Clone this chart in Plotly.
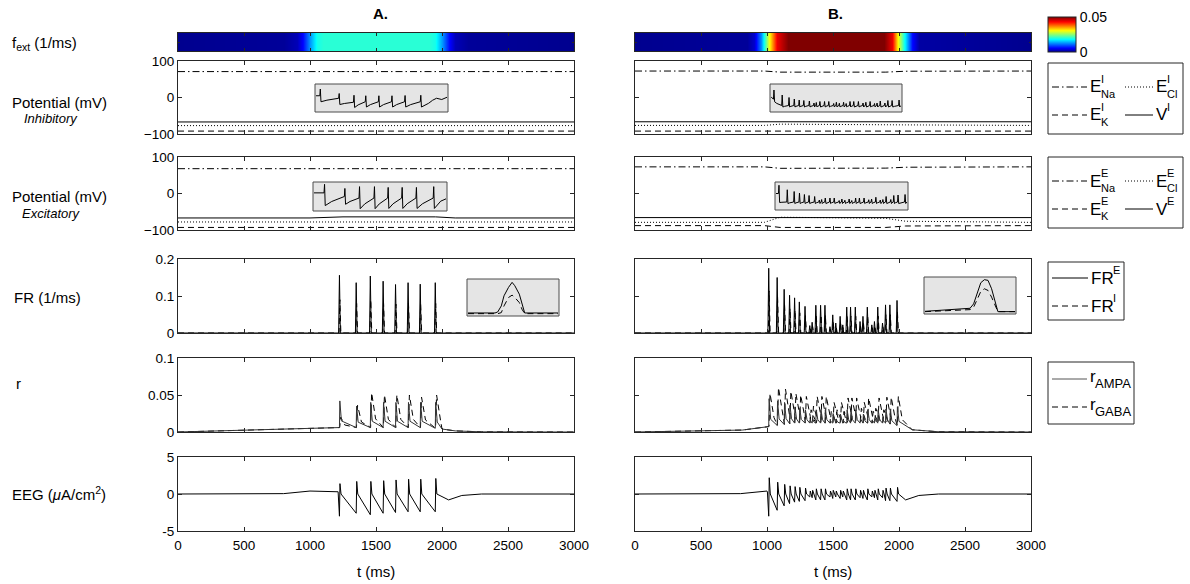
import plotly.graph_objects as go

# ---------------- data ----------------
X_TICKS = [0, 500, 1000, 1500, 2000, 2500, 3000]

# external drive f_ext (1/ms)
fext_tA = [0, 800, 900, 950, 1000, 1050, 1100, 1900, 1950, 2000, 2050, 2100, 2200, 3000]
fext_A = [0, 0.0005, 0.002, 0.006, 0.013, 0.019, 0.02, 0.02, 0.019, 0.013, 0.006, 0.002, 0.0005, 0]
fext_tB = [0, 850, 900, 958, 1016, 1076, 1160, 1890, 1947, 1993, 2038, 2095, 2150, 3000]
fext_B = [0, 0.0005, 0.003, 0.0125, 0.03, 0.044, 0.05, 0.05, 0.044, 0.03, 0.019, 0.006, 0.001, 0]

# reversal potentials / membrane potential (mV), breakpoints
pot_t = [0, 1000, 1250, 1950, 2100, 3000]
ENa_I_A = [71, 71, 70, 70, 71, 71]
ECl_I_A = [-77, -77, -76, -76, -77, -77]
EK_I_A = [-92, -92, -92, -92, -92, -92]
V_I_A = [-67, -67, -65.5, -65.5, -67, -67]
ENa_E_A = [68, 68, 67, 67, 68, 68]
ECl_E_A = [-78, -78, -76, -76, -78, -78]
EK_E_A = [-93, -93, -94, -94, -93, -93]
V_E_A = [-67, -67, -64, -64, -67, -67]

potB_t = [0, 980, 1100, 1900, 2050, 3000]
ENa_I_B = [72.5, 72.5, 69.5, 69.5, 72, 72.5]
ECl_I_B = [-76.5, -76.5, -73, -73, -75, -76.5]
EK_I_B = [-92, -92, -93.5, -93.5, -92.5, -92]
V_I_B = [-66.5, -66.5, -66.5, -66.5, -66.5, -66.5]
ENa_E_B = [73, 73, 69, 69.5, 72, 73]
ECl_E_B = [-79, -79, -65, -68, -76, -79]
EK_E_B = [-88, -88, -93, -93, -89, -88]
V_E_B = [-66, -66, -66, -66, -66, -66]

# firing-rate spikes (1/ms)
spk_A = [1223, 1350, 1457, 1554, 1648, 1743, 1835, 1949]
frE_A = [0.156, 0.136, 0.154, 0.140, 0.131, 0.136, 0.132, 0.136]
frI_A = [0.090, 0.080, 0.090, 0.082, 0.078, 0.080, 0.078, 0.080]

spk_B = [1013, 1077, 1130, 1171, 1209, 1245, 1288, 1324, 1342, 1370, 1406, 1439, 1477, 1498, 1521,
         1554, 1574, 1604, 1633, 1669, 1705, 1727, 1760, 1794, 1814, 1839, 1875, 1898, 1931, 1985]
frE_B = [0.175, 0.150, 0.118, 0.102, 0.095, 0.084, 0.072, 0.020, 0.029, 0.075, 0.075, 0.075, 0.017, 0.049, 0.027,
         0.045, 0.022, 0.070, 0.070, 0.070, 0.031, 0.045, 0.070, 0.022, 0.031, 0.070, 0.027, 0.076, 0.076, 0.088]

# synaptic gating
rbase_t = [0, 700, 900, 1000, 1200, 1900, 2000, 2100, 2300, 3000]
rAMPA_base_A = [0, 0.0005, 0.003, 0.005, 0.006, 0.006, 0.004, 0.0015, 0.0002, 0]
rAMPA_pk_A = [0.042, 0.035, 0.040, 0.040, 0.040, 0.040, 0.040, 0.040]
rGABA_pk_A = [0.020, 0.036, 0.053, 0.050, 0.050, 0.050, 0.047, 0.050]
rAMPA_base_B = [0, 0.0008, 0.004, 0.007, 0.012, 0.012, 0.008, 0.003, 0.0003, 0]
rAMPA_pk_B = [0.045, 0.042, 0.040, 0.036, 0.034, 0.032, 0.030, 0.016, 0.018, 0.030, 0.030, 0.030, 0.015, 0.025, 0.017,
              0.024, 0.016, 0.030, 0.030, 0.030, 0.018, 0.024, 0.030, 0.016, 0.018, 0.030, 0.017, 0.031, 0.031, 0.034]
rGABA_pk_B = [0.052, 0.060, 0.058, 0.055, 0.052, 0.050, 0.048, 0.030, 0.035, 0.048, 0.048, 0.048, 0.028, 0.040, 0.030,
              0.040, 0.028, 0.046, 0.046, 0.046, 0.032, 0.040, 0.046, 0.028, 0.032, 0.046, 0.030, 0.047, 0.047, 0.048]

# EEG (uA/cm^2)
eeg_neg_A = [-3.0, -2.6, -2.8, -2.6, -2.5, -2.4, -2.4, -2.4]
eeg_pos_A = [1.4, 1.7, 1.7, 1.8, 1.9, 2.0, 2.0, 2.1]
eeg_neg_B = [-3.0, -2.2, -1.6, -1.3, -1.1, -1.0, -0.9, -0.4, -0.5, -0.8, -0.8, -0.8, -0.4, -0.6, -0.4,
             -0.6, -0.4, -0.8, -0.8, -0.8, -0.5, -0.6, -0.8, -0.4, -0.5, -0.8, -0.5, -0.9, -0.9, -1.0]
eeg_pos_B = [2.2, 1.6, 1.3, 1.1, 1.0, 0.9, 0.8, 0.4, 0.5, 0.7, 0.7, 0.7, 0.4, 0.5, 0.4,
             0.5, 0.4, 0.7, 0.7, 0.7, 0.5, 0.5, 0.7, 0.4, 0.5, 0.7, 0.5, 0.8, 0.8, 0.9]

# inset traces (fractions of the inset box)
insFR_A_x = [0, 0.30, 0.33, 0.37, 0.40, 0.45, 0.49, 0.52, 0.57, 0.60, 0.63, 1]
insFR_A_yE = [0.04, 0.04, 0.07, 0.25, 0.55, 0.80, 0.95, 0.85, 0.60, 0.35, 0.04, 0.04]
insFR_A_yI = [0.02, 0.02, 0.02, 0.05, 0.25, 0.50, 0.57, 0.50, 0.35, 0.15, 0.02, 0.02]
insFR_B_x = [0, 0.50, 0.54, 0.58, 0.62, 0.66, 0.70, 0.74, 0.78, 0.81, 1]
insFR_B_yE = [0.03, 0.12, 0.25, 0.60, 0.88, 0.97, 0.95, 0.70, 0.35, 0.02, 0.02]
insFR_B_yI = [0.02, 0.08, 0.15, 0.40, 0.62, 0.70, 0.65, 0.45, 0.20, 0.02, 0.02]

# membrane-potential insets: spike positions (box fraction), peak, trough, level just before spike
insVI_A_f = [0.033, 0.177, 0.29, 0.38, 0.48, 0.58, 0.68, 0.80]
insVI_A_hi = [0.86, 0.68, 0.61, 0.59, 0.59, 0.59, 0.60, 0.61]
insVI_A_lo = [0.35, 0.24, 0.12, 0.14, 0.14, 0.14, 0.14, 0.14]
insVI_A_pre = [0.59, 0.49, 0.33, 0.35, 0.35, 0.35, 0.35, 0.35]
insVI_A_tail_x = [0.86, 0.89, 0.92, 0.96, 1.0]
insVI_A_tail_y = [0.29, 0.41, 0.49, 0.44, 0.53]

insVE_A_f = [0.08, 0.234, 0.345, 0.458, 0.562, 0.668, 0.776, 0.907]
insVE_A_hi = [0.97, 0.81, 0.88, 0.88, 0.85, 0.85, 0.85, 0.88]
insVE_A_lo = [0.15, 0.20, 0.03, 0.03, 0.04, 0.04, 0.04, 0.04]
insVE_A_pre = [0.64, 0.50, 0.44, 0.44, 0.44, 0.44, 0.44, 0.44]
insVE_A_tail_x = [0.96, 1.0]
insVE_A_tail_y = [0.32, 0.41]

insVI_B_hi = [0.82, 0.62, 0.52, 0.46, 0.42, 0.40, 0.38, 0.30, 0.32, 0.36, 0.36, 0.36, 0.28, 0.33, 0.29,
              0.33, 0.28, 0.36, 0.36, 0.36, 0.30, 0.33, 0.36, 0.28, 0.30, 0.38, 0.30, 0.40, 0.40, 0.42]
insVE_B_hi = [0.93, 0.75, 0.68, 0.62, 0.56, 0.52, 0.48, 0.34, 0.36, 0.42, 0.42, 0.42, 0.32, 0.38, 0.33,
              0.38, 0.32, 0.42, 0.42, 0.42, 0.35, 0.38, 0.45, 0.34, 0.36, 0.48, 0.36, 0.52, 0.54, 0.56]

# ---------------- layout helpers ----------------
W, H = 1190, 584
def fx(p): return p / W
def fy(p): return 1 - p / H

COLS = {'A': (178, 574), 'B': (635, 1031)}
ROWS = {'cb': (33, 51), 'pi': (61, 134), 'pe': (157, 230), 'fr': (259, 333), 'r': (358, 432), 'eeg': (457, 531)}
FONT = 'Liberation Sans, Arial, Helvetica, sans-serif'
AX = '#262626'

fig = go.Figure()
layout = dict(width=W, height=H, margin=dict(l=0, r=0, t=0, b=0, pad=0, autoexpand=False), autosize=False,
              paper_bgcolor='white', plot_bgcolor='rgba(0,0,0,0)', showlegend=False,
              font=dict(family=FONT, size=13, color='black'))
shapes, annots = [], []
axid = {}
n = 0
for c, (x0, x1) in COLS.items():
    for r, (y0, y1) in ROWS.items():
        n += 1
        axid[(c, r)] = n
        xa = dict(domain=[fx(x0), fx(x1)], range=[0, 3000], anchor='y%d' % n, showgrid=False, zeroline=False,
                  showline=True, mirror='ticks', linecolor=AX, linewidth=1, ticks='inside', ticklen=4,
                  tickcolor=AX, tickvals=X_TICKS, showticklabels=(r == 'eeg'), ticklabelstandoff=2,
                  tickfont=dict(size=13.5, family=FONT))
        ya = dict(domain=[fy(y1), fy(y0)], anchor='x%d' % n, showgrid=False, zeroline=False,
                  showline=True, mirror='ticks', linecolor=AX, linewidth=1, ticks='inside', ticklen=4,
                  tickcolor=AX, showticklabels=(c == 'A'), tickfont=dict(size=13.5, family=FONT))
        if r == 'cb':
            ya.update(range=[0, 1], tickvals=[0.5], ticklen=2, showticklabels=False)
            xa.update(ticklen=3)
        elif r in ('pi', 'pe'):
            ya.update(range=[-100, 100], tickvals=[-100, 0, 100])
        elif r == 'fr':
            ya.update(range=[0, 0.2], tickvals=[0, 0.1, 0.2], ticktext=['0', '0.1', '0.2'])
        elif r == 'r':
            ya.update(range=[0, 0.1], tickvals=[0, 0.05, 0.1], ticktext=['0', '0.05', '0.1'])
        else:
            ya.update(range=[-5, 5], tickvals=[-5, 0, 5], ticktext=['-5', '0', '5'])
        layout['xaxis%d' % n if n > 1 else 'xaxis'] = xa
        layout['yaxis%d' % n if n > 1 else 'yaxis'] = ya

def ax(c, r):
    k = axid[(c, r)]
    return ('x%d' % k if k > 1 else 'x'), ('y%d' % k if k > 1 else 'y')

def line(c, r, x, y, dash='solid', color='black', width=1):
    xr, yr = ax(c, r)
    fig.add_trace(go.Scatter(x=x, y=y, mode='lines', xaxis=xr, yaxis=yr, hoverinfo='skip',
                             line=dict(color=color, width=width, dash=dash)))

DASH = '6px,4px'
DASHDOT = '7px,3px,1.5px,3px'
DOT = '1px,2px'

jet = [[0, 'rgb(0,0,143)'], [0.11, 'rgb(0,0,255)'], [0.36, 'rgb(0,255,255)'],
       [0.61, 'rgb(255,255,0)'], [0.86, 'rgb(255,0,0)'], [1, 'rgb(128,0,0)']]

# colour strips
for c, tt, ff in (('A', fext_tA, fext_A), ('B', fext_tB, fext_B)):
    xr, yr = ax(c, 'cb')
    hm = dict(x=tt, y=[0, 1], z=[ff, ff], colorscale=jet, zmin=0, zmax=0.05, zsmooth='best',
              xaxis=xr, yaxis=yr, hoverinfo='skip', showscale=(c == 'B'))
    if c == 'B':
        hm['colorbar'] = dict(x=fx(1048), xanchor='left', y=fy(17), yanchor='top', len=35, lenmode='pixels',
                              thickness=28, thicknessmode='pixels', xpad=0, ypad=0, tickvals=[0, 0.05],
                              ticktext=['0', '0.05'], ticks='', outlinewidth=1, outlinecolor=AX,
                              tickfont=dict(size=14, family=FONT))
    fig.add_trace(go.Heatmap(**hm))

# potentials
for c, tt, d in (('A', pot_t, (ENa_I_A, ECl_I_A, EK_I_A, V_I_A, ENa_E_A, ECl_E_A, EK_E_A, V_E_A)),
                 ('B', potB_t, (ENa_I_B, ECl_I_B, EK_I_B, V_I_B, ENa_E_B, ECl_E_B, EK_E_B, V_E_B))):
    for r, k in (('pi', 0), ('pe', 4)):
        line(c, r, tt, d[k], DASHDOT)
        line(c, r, tt, d[k + 1], DOT)
        line(c, r, tt, d[k + 2], DASH)
        line(c, r, tt, d[k + 3])

def spike_line(ts, pk, base, pre, post):
    x, y = [0], [base]
    for t, p in zip(ts, pk):
        x += [t - pre, t, t + post]
        y += [base, p, base]
    x.append(3000); y.append(base)
    return x, y

# firing rates
for c, ts, pe_, pi_ in (('A', spk_A, frE_A, frI_A), ('B', spk_B, frE_B, [v * 0.65 for v in frE_B])):
    x, y = spike_line([t + 3 for t in ts], pi_, 0, 6, 8)
    line(c, 'fr', x, y, DASH)
    x, y = spike_line(ts, pe_, 0, 6, 7)
    line(c, 'fr', x, y)

# synaptic gating
def gating(ts, pk, bt, bv, rise, decay):
    import bisect
    x, y = [], []
    def base(t):
        i = bisect.bisect_right(bt, t) - 1
        i = min(max(i, 0), len(bt) - 2)
        return bv[i] + (bv[i + 1] - bv[i]) * (t - bt[i]) / (bt[i + 1] - bt[i])
    x += [0, ts[0] - 200]; y += [0, base(ts[0] - 200)]
    for i, (t, p) in enumerate(zip(ts, pk)):
        x += [t, t + rise, t + rise + decay]
        y += [base(t), p, base(t + rise + decay) + 0.25 * (p - base(t))]
    for t in bt:
        if t > ts[-1] + rise + decay:
            x.append(t); y.append(base(t))
    return x, y

for c, ts, pa, pg, bv in (('A', spk_A, rAMPA_pk_A, rGABA_pk_A, rAMPA_base_A),
                          ('B', spk_B, rAMPA_pk_B, rGABA_pk_B, rAMPA_base_B)):
    x, y = gating([t + 2 for t in ts], pg, rbase_t, bv, 8, 30)
    line(c, 'r', x, y, DASH)
    x, y = gating(ts, pa, rbase_t, bv, 3, 12)
    line(c, 'r', x, y, color='#333333')

# EEG
for c, ts, ng, ps in (('A', spk_A, eeg_neg_A, eeg_pos_A), ('B', spk_B, eeg_neg_B, eeg_pos_B)):
    x = [0, 800, 1000, ts[0] - 10]
    y = [0, 0.05, 0.4, 0.3]
    for t, a, b in zip(ts, ng, ps):
        x += [t, t + 4, t + 12]
        y += [a, b, 0.0]
    x += [2050, 2150, 2300, 3000]
    y += [-0.8, -0.2, 0, 0]
    line(c, 'eeg', x, y)

# ---------------- insets ----------------
def inset(c, box, xs, ys_list, dashes):
    global n
    n += 1
    x0, y0, x1, y1 = box
    layout['xaxis%d' % n] = dict(domain=[fx(x0 + 1), fx(x1 - 1)], range=[0, 1], anchor='y%d' % n, visible=False)
    layout['yaxis%d' % n] = dict(domain=[fy(y1 - 1), fy(y0 + 1)], range=[-0.02, 1.02], anchor='x%d' % n, visible=False)
    shapes.append(dict(type='rect', xref='paper', yref='paper', x0=fx(x0), x1=fx(x1), y0=fy(y1), y1=fy(y0),
                       fillcolor='#e5e5e5', line=dict(color='#4d4d4d', width=1), layer='below'))
    for ys, d in zip(ys_list, dashes):
        fig.add_trace(go.Scatter(x=xs, y=ys, mode='lines', xaxis='x%d' % n, yaxis='y%d' % n, hoverinfo='skip',
                                 line=dict(color='black', width=1, dash=d)))

def saw(fs, hi, lo, pre, start, tail_x=None, tail_y=None):
    xs, ys = [0], [start]
    for i, (f, h, l, p) in enumerate(zip(fs, hi, lo, pre)):
        if i > 0:
            fp = fs[i - 1]
            xs.append(fp + 0.35 * (f - fp)); ys.append(lo[i - 1] + 0.45 * (p - lo[i - 1]))
        xs += [f - 0.004, f, f + 0.005]
        ys += [p, h, l]
    if tail_x:
        xs += tail_x; ys += tail_y
    else:
        xs.append(1); ys.append(pre[-1])
    return xs, ys

xs, ys = saw(insVI_A_f, insVI_A_hi, insVI_A_lo, insVI_A_pre, 0.59, insVI_A_tail_x, insVI_A_tail_y)
inset('A', (315, 84, 448, 112), xs, [ys], ['solid'])
xs, ys = saw(insVE_A_f, insVE_A_hi, insVE_A_lo, insVE_A_pre, 0.64, insVE_A_tail_x, insVE_A_tail_y)
inset('A', (313, 182, 447, 211), xs, [ys], ['solid'])
inset('A', (467, 279, 559, 316), insFR_A_x, [insFR_A_yE, insFR_A_yI], ['solid', DASH])

fB = [(t - 990) / 1010 for t in spk_B]
xs, ys = saw(fB, insVI_B_hi, [0.35] + [0.14] * 29, [0.45] + [0.2] * 29, 0.55)
inset('B', (770, 84, 902, 112), xs, [ys], ['solid'])
xs, ys = saw(fB, insVE_B_hi, [0.24] + [0.2] * 29, [0.6] + [0.26] * 29, 0.6)
inset('B', (775, 182, 908, 210), xs, [ys], ['solid'])
inset('B', (924, 277, 1016, 314), insFR_B_x, [insFR_B_yE, insFR_B_yI], ['solid', DASH])

# ---------------- text ----------------
def txt(x, y, s, size=15, xanchor='left', italic=False, bold=False):
    if italic: s = '<i>%s</i>' % s
    if bold: s = '<b>%s</b>' % s
    annots.append(dict(x=fx(x), y=fy(y), xref='paper', yref='paper', text=s, showarrow=False,
                       xanchor=xanchor, yanchor='middle', font=dict(size=size, family=FONT, color='black')))

txt(381, 13, 'A.', 15, 'center', bold=True)
txt(836, 13, 'B.', 15, 'center', bold=True)
txt(10, 44, 'f<sub>ext</sub> (1/ms)', 15)
txt(10, 103, 'Potential (mV)', 15)
txt(22, 118, 'Inhibitory', 13, italic=True)
txt(10, 197, 'Potential (mV)', 15)
txt(20, 213, 'Excitatory', 13, italic=True)
txt(12, 297, 'FR (1/ms)', 15)
txt(14, 383, 'r', 15)
txt(10, 493, 'EEG (<i>μ</i>A/cm<sup>2</sup>)', 15)
txt(376, 571, 't (ms)', 15, 'center')
txt(833, 571, 't (ms)', 15, 'center')

# manual legends
def lbox(x0, y0, x1, y1):
    shapes.append(dict(type='rect', xref='paper', yref='paper', x0=fx(x0), x1=fx(x1), y0=fy(y1), y1=fy(y0),
                       line=dict(color=AX, width=1), fillcolor='white'))

def lline(x0, x1, y, dash, color='black'):
    shapes.append(dict(type='line', xref='paper', yref='paper', x0=fx(x0), x1=fx(x1), y0=fy(y), y1=fy(y),
                       line=dict(color=color, width=1, dash=dash)))

def sym(x, y, base, sup=None, sub=None, size=17, ssize=11, bw=11):
    txt(x, y, base, size)
    if sup: txt(x + bw, y - 8, sup, ssize)
    if sub: txt(x + bw, y + 7, sub, ssize)

for top, s in ((63, 'I'), (157, 'E')):
    lbox(1048, top, 1183, top + 71)
    r1, r2 = top + 24, top + 52
    lline(1052, 1087, r1, DASHDOT); sym(1088, r1, 'E', s, 'Na')
    lline(1125, 1153, r1, DOT); sym(1154, r1, 'E', s, 'Cl')
    lline(1052, 1087, r2, DASH); sym(1088, r2, 'E', s, 'K')
    lline(1125, 1153, r2, 'solid'); sym(1154, r2, 'V', s, None)

lbox(1048, 262, 1124, 320)
lline(1052, 1088, 278, 'solid'); sym(1089, 278, 'FR', 'E', None, bw=22)
lline(1052, 1088, 306, DASH); sym(1089, 306, 'FR', 'I', None, bw=22)

lbox(1048, 362, 1134, 424)
lline(1052, 1087, 379, 'solid', '#555555'); sym(1088, 376, 'r', None, 'AMPA', bw=5, ssize=13)
lline(1052, 1087, 407, DASH); sym(1088, 404, 'r', None, 'GABA', bw=5, ssize=13)

layout['shapes'] = shapes
layout['annotations'] = annots
fig.update_layout(**layout)
fig.write_html('out.html', config={'displayModeBar': False},
               post_script="document.body.style.margin='0px';document.body.style.overflow='hidden';")
